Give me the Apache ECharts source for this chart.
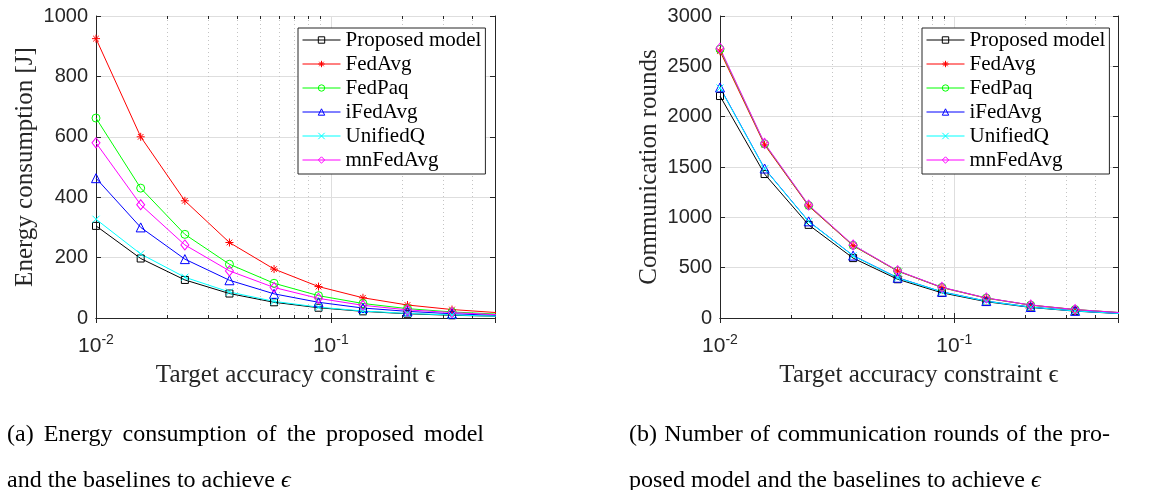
<!DOCTYPE html>
<html>
<head>
<meta charset="utf-8">
<script src="https://cdn.jsdelivr.net/npm/echarts@6/dist/echarts.min.js"></script>
<style>
body { margin: 0; background: #fff; }
#wrap { position: relative; width: 1171px; height: 490px; }
#chart { position: absolute; left: 0; top: 0; width: 1171px; height: 490px; }
.cap { position: absolute; font-family: 'Liberation Serif', 'DejaVu Serif', serif; font-size: 24px; line-height: 46px; color: #000; }
.just { text-align: justify; text-align-last: justify; }
</style>
</head>
<body>
<div id="wrap">
  <div id="chart"></div>
  <div class="cap" style="left:7px; top:410px; width:477px;">
    <div class="just">(a) Energy consumption of the proposed model</div>
    <div>and the baselines to achieve <i>ϵ</i></div>
  </div>
  <div class="cap" style="left:629px; top:410px; width:481px;">
    <div class="just">(b) Number of communication rounds of the pro-</div>
    <div>posed model and the baselines to achieve <i>ϵ</i></div>
  </div>
</div>
<script>
// target accuracy constraint (x values, log scale)
const eps = [0.01, 0.0155, 0.0239, 0.037, 0.0573, 0.0886, 0.137, 0.212, 0.328, 0.507]
const minorTicks = [0.02, 0.03, 0.04, 0.05, 0.06, 0.07, 0.08, 0.09, 0.2, 0.3, 0.4]
const seriesNames = ['Proposed model', 'FedAvg', 'FedPaq', 'iFedAvg', 'UnifiedQ', 'mnFedAvg']

// (a) energy consumption [J]
const energyProposed = [305, 197, 126, 81, 52, 34, 22, 14, 9, 6]
const energyFedAvg   = [925, 600, 388, 250, 162, 104, 67, 43, 28, 18]
const energyFedPaq   = [662, 430, 277, 178, 115, 74, 48, 31, 20, 13]
const energyIFedAvg  = [463, 300, 195, 125, 80, 52, 33, 22, 14, 9]
const energyUnifiedQ = [327, 212, 135, 86, 55, 36, 23, 15, 10, 6]
const energyMnFedAvg = [580, 375, 242, 156, 101, 65, 42, 27, 18, 11]

// (b) communication rounds
const roundsProposed = [2205, 1430, 925, 595, 385, 250, 162, 105, 68, 44]
const roundsFedAvg   = [2650, 1720, 1112, 718, 466, 302, 197, 128, 83, 53]
const roundsFedPaq   = [2670, 1730, 1118, 722, 468, 304, 198, 128, 84, 54]
const roundsIFedAvg  = [2290, 1485, 960, 620, 400, 260, 168, 109, 71, 46]
const roundsUnifiedQ = [2285, 1482, 958, 618, 398, 259, 167, 108, 70, 45]
const roundsMnFedAvg = [2680, 1735, 1122, 725, 470, 305, 199, 129, 84, 54]

const serif = "'Liberation Serif', 'DejaVu Serif', serif"
const sans = "'Liberation Sans', Arial, sans-serif"
const axisColor = '#262626'

const asterisk = 'path://M5,0L5,10M0,5L10,5M1.5,1.5L8.5,8.5M1.5,8.5L8.5,1.5'
const cross = 'path://M0,0L10,10M0,10L10,0'
const styles = [
  { color: '#000000', symbol: 'rect', size: 7 },
  { color: '#ff0000', symbol: asterisk, size: 8 },
  { color: '#00ff00', symbol: 'circle', size: 8 },
  { color: '#0000ff', symbol: 'triangle', size: 9 },
  { color: '#00ffff', symbol: cross, size: 7 },
  { color: '#ff00ff', symbol: 'diamond', size: [8, 10] }
]

const grids = [
  { left: 96, top: 16, width: 399, height: 302 },
  { left: 720, top: 16, width: 398, height: 302 }
]

const logLabel = (v) => {
  const e = Math.log10(v)
  const r = Math.round(e)
  return Math.abs(e - r) < 1e-6 ? '{b|10}{s|' + r + '}' : ''
}

const makeXAxes = (gi) => [
  {
    type: 'log', logBase: 10, gridIndex: gi, min: 0.01, max: 0.5, position: 'bottom',
    axisLine: { lineStyle: { color: axisColor, width: 1 } },
    axisTick: { inside: true, length: 5, lineStyle: { color: axisColor } },
    axisLabel: {
      formatter: logLabel, margin: 18, color: axisColor,
      rich: {
        b: { fontSize: 21, fontFamily: sans, color: axisColor, verticalAlign: 'bottom', lineHeight: 21 },
        s: { fontSize: 14, fontFamily: sans, color: axisColor, verticalAlign: 'bottom', lineHeight: 14, padding: [0, 0, 10, 0] }
      }
    },
    splitLine: { show: true, lineStyle: { color: '#dedede', width: 1 } },
    name: 'Target accuracy constraint ϵ', nameLocation: 'middle', nameGap: 45,
    nameTextStyle: { fontFamily: serif, fontSize: 25, color: axisColor }
  },
  {
    type: 'log', logBase: 10, gridIndex: gi, min: 0.01, max: 0.5, position: 'top',
    axisLine: { lineStyle: { color: axisColor, width: 1 } },
    axisTick: { inside: true, length: 5, lineStyle: { color: axisColor } },
    axisLabel: { show: false },
    splitLine: { show: false }
  }
]

const makeYAxes = (gi, max, interval, name) => [
  {
    type: 'value', gridIndex: gi, min: 0, max: max, interval: interval, position: 'left',
    axisLine: { show: true, lineStyle: { color: axisColor, width: 1 } },
    axisTick: { show: true, inside: true, length: 5, lineStyle: { color: axisColor } },
    axisLabel: { fontSize: 20, fontFamily: sans, color: axisColor, margin: 8, formatter: v => String(v) },
    splitLine: { show: true, lineStyle: { color: '#dedede', width: 1 } },
    name: name, nameLocation: 'middle', nameGap: 58,
    nameTextStyle: { fontFamily: serif, fontSize: 25, color: axisColor }
  },
  {
    type: 'value', gridIndex: gi, min: 0, max: max, interval: interval, position: 'right',
    axisLine: { show: true, lineStyle: { color: axisColor, width: 1 } },
    axisTick: { show: true, inside: true, length: 5, lineStyle: { color: axisColor } },
    axisLabel: { show: false },
    splitLine: { show: false }
  }
]

const minorSeries = (gi) => ({
  type: 'custom', xAxisIndex: gi * 2, yAxisIndex: gi * 2, silent: true, z: 1, clip: false,
  data: minorTicks.map(v => [v, 0]),
  renderItem: (params, api) => {
    const cs = params.coordSys
    const x = Math.round(api.coord([api.value(0), 0])[0]) + 0.5
    const y0 = cs.y, y1 = cs.y + cs.height
    return {
      type: 'group',
      children: [
        { type: 'line', shape: { x1: x, y1: y0, x2: x, y2: y1 }, style: { stroke: '#c4c4c4', lineWidth: 1, lineDash: [1, 3] } },
        { type: 'line', shape: { x1: x, y1: y1, x2: x, y2: y1 - 3 }, style: { stroke: axisColor, lineWidth: 1 } },
        { type: 'line', shape: { x1: x, y1: y0, x2: x, y2: y0 + 3 }, style: { stroke: axisColor, lineWidth: 1 } }
      ]
    }
  }
})

const openItem = (i) => ({ color: 'rgba(0,0,0,0)', borderColor: styles[i].color, borderWidth: 1 })

const lineSeries = (gi, valueSets) => valueSets.map((vals, i) => ({
  name: seriesNames[i], type: 'line', xAxisIndex: gi * 2, yAxisIndex: gi * 2,
  data: eps.map((x, k) => [x, vals[k]]),
  symbol: styles[i].symbol, symbolSize: styles[i].size,
  lineStyle: { color: styles[i].color, width: 1 },
  itemStyle: openItem(i),
  emphasis: { disabled: true }, z: 3
}))

const makeLegend = (left) => ({
  orient: 'vertical', left: left, top: 28, selectedMode: false,
  data: seriesNames.map((n, i) => ({
    name: n,
    itemStyle: openItem(i),
    lineStyle: { color: styles[i].color, width: 1 }
  })),
  backgroundColor: '#fff', borderColor: axisColor, borderWidth: 1, padding: [0, 4, 2, 4],
  itemWidth: 38, itemHeight: 8, itemGap: 0,
  textStyle: { fontFamily: serif, fontSize: 21, lineHeight: 24, color: '#000' }
})

const chart = echarts.init(document.getElementById('chart'))
chart.setOption({
  animation: false,
  backgroundColor: '#fff',
  grid: grids,
  legend: [makeLegend(298), makeLegend(922)],
  xAxis: [...makeXAxes(0), ...makeXAxes(1)],
  yAxis: [
    ...makeYAxes(0, 1000, 200, 'Energy consumption [J]'),
    ...makeYAxes(1, 3000, 500, 'Communication rounds')
  ],
  series: [
    minorSeries(0),
    minorSeries(1),
    ...lineSeries(0, [energyProposed, energyFedAvg, energyFedPaq, energyIFedAvg, energyUnifiedQ, energyMnFedAvg]),
    ...lineSeries(1, [roundsProposed, roundsFedAvg, roundsFedPaq, roundsIFedAvg, roundsUnifiedQ, roundsMnFedAvg])
  ]
})
window.addEventListener('resize', () => chart.resize())
</script>
</body>
</html>
